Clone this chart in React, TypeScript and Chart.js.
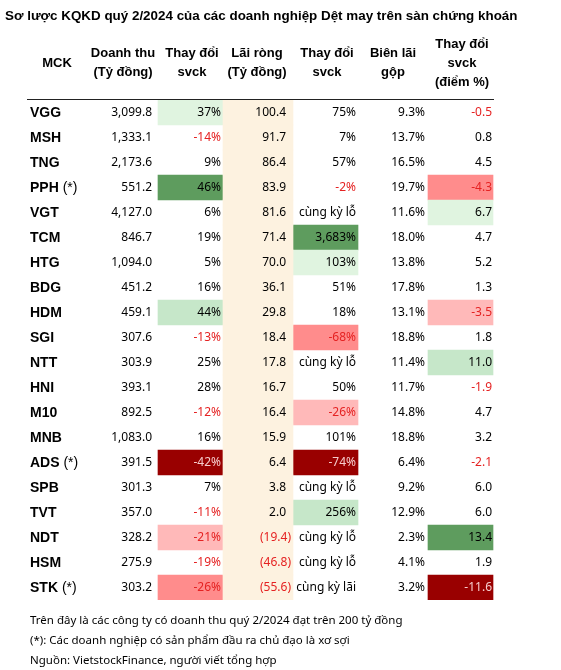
import { useEffect, useRef } from 'react';
import { Chart, registerables } from 'chart.js';

Chart.register(...registerables);

// ---------- data ----------
const titleText = 'Sơ lược KQKD quý 2/2024 của các doanh nghiệp Dệt may trên sàn chứng khoán';
const headers: string[][] = [
  ['MCK'],
  ['Doanh thu', '(Tỷ đồng)'],
  ['Thay đổi', 'svck'],
  ['Lãi ròng', '(Tỷ đồng)'],
  ['Thay đổi', 'svck'],
  ['Biên lãi', 'gộp'],
  ['Thay đổi', 'svck', '(điểm %)'],
];
const tickers = ['VGG', 'MSH', 'TNG', 'PPH', 'VGT', 'TCM', 'HTG', 'BDG', 'HDM', 'SGI', 'NTT', 'HNI', 'M10', 'MNB', 'ADS', 'SPB', 'TVT', 'NDT', 'HSM', 'STK'];
const yarnMaker = [false, false, false, true, false, false, false, false, false, false, false, false, false, false, true, false, false, false, false, true];
const revenue = [3099.8, 1333.1, 2173.6, 551.2, 4127.0, 846.7, 1094.0, 451.2, 459.1, 307.6, 303.9, 393.1, 892.5, 1083.0, 391.5, 301.3, 357.0, 328.2, 275.9, 303.2];
const revenueChange = [37, -14, 9, 46, 6, 19, 5, 16, 44, -13, 25, 28, -12, 16, -42, 7, -11, -21, -19, -26];
const netProfit = [100.4, 91.7, 86.4, 83.9, 81.6, 71.4, 70.0, 36.1, 29.8, 18.4, 17.8, 16.7, 16.4, 15.9, 6.4, 3.8, 2.0, -19.4, -46.8, -55.6];
const profitChange: (number | string)[] = [75, 7, 57, -2, 'cùng kỳ lỗ', 3683, 103, 51, 18, -68, 'cùng kỳ lỗ', 50, -26, 101, -74, 'cùng kỳ lỗ', 256, 'cùng kỳ lỗ', 'cùng kỳ lỗ', 'cùng kỳ lãi'];
const grossMargin = [9.3, 13.7, 16.5, 19.7, 11.6, 18.0, 13.8, 17.8, 13.1, 18.8, 11.4, 11.7, 14.8, 18.8, 6.4, 9.2, 12.9, 2.3, 4.1, 3.2];
const marginChange = [-0.5, 0.8, 4.5, -4.3, 6.7, 4.7, 5.2, 1.3, -3.5, 1.8, 11.0, -1.9, 4.7, 3.2, -2.1, 6.0, 6.0, 13.4, 1.9, -11.6];
// highlight levels: 3 strong green ... -3 strong red
const revenueChangeLevel = [1, 0, 0, 3, 0, 0, 0, 0, 2, 0, 0, 0, 0, 0, -3, 0, 0, -1, 0, -2];
const profitChangeLevel = [0, 0, 0, 0, 0, 3, 1, 0, 0, -2, 0, 0, -1, 0, -3, 0, 2, 0, 0, 0];
const marginChangeLevel = [0, 0, 0, -2, 1, 0, 0, 0, -1, 0, 2, 0, 0, 0, 0, 0, 0, 3, 0, -3];
const footnotes = [
  'Trên đây là các công ty có doanh thu quý 2/2024 đạt trên 200 tỷ đồng',
  '(*): Các doanh nghiệp có sản phẩm đầu ra chủ đạo là xơ sợi',
  'Nguồn: VietstockFinance, người viết tổng hợp',
];

// ---------- layout / style ----------
const colBounds = [0, 73, 131, 196, 266, 331, 401, 466];
const headerCenter = [30, 96, 165, 230, 300, 366, 435];
const textRight = [0, 125, 194, 259, 329, 398, 465];
const levelColor: Record<string, string> = {
  '3': '#5e9c5e',
  '2': '#c6e7c9',
  '1': '#e0f4e0',
  '0': 'rgba(0,0,0,0)',
  '-1': '#ffb9b9',
  '-2': '#ff8c8c',
  '-3': '#990000',
};
const RED = '#e52222';
const BODY_FONT = '12px "Noto Sans", "DejaVu Sans", sans-serif';
const NOTE_FONT = '11.5px "Noto Sans", "DejaVu Sans", sans-serif';
const TITLE_FONT = 'bold 13.4px "Liberation Sans", Arial, sans-serif';
const HEAD_FONT = 'bold 13px "Liberation Sans", Arial, sans-serif';

const fmt1 = (v: number) => v.toLocaleString('en-US', { minimumFractionDigits: 1, maximumFractionDigits: 1 });
const fmtPct = (v: number) => v.toLocaleString('en-US') + '%';

const cellBars = (col: number, levels: number[]) =>
  levels.map((l) => (l !== 0 ? [colBounds[col], colBounds[col + 1]] : null));

const tablePlugin = {
  id: 'tableText',
  afterDatasetsDraw(chart: any) {
    const { ctx, scales, chartArea } = chart;
    const x = scales.x;
    const y = scales.y;
    ctx.save();
    ctx.textBaseline = 'middle';

    // title
    ctx.font = TITLE_FONT;
    ctx.fillStyle = '#000';
    ctx.textAlign = 'left';
    ctx.fillText(titleText, 5, 16);

    // headers
    ctx.font = HEAD_FONT;
    ctx.textAlign = 'center';
    headers.forEach((lines, i) => {
      const lh = 19;
      const mid = 63;
      const start = mid - ((lines.length - 1) * lh) / 2;
      const cx = x.getPixelForValue(headerCenter[i]);
      lines.forEach((t, j) => ctx.fillText(t, cx, start + j * lh));
    });

    // top rule
    ctx.strokeStyle = '#222';
    ctx.lineWidth = 1;
    ctx.beginPath();
    ctx.moveTo(chartArea.left, chartArea.top - 0.5);
    ctx.lineTo(chartArea.right, chartArea.top - 0.5);
    ctx.stroke();

    // body
    tickers.forEach((tk, i) => {
      const py = y.getPixelForValue(i) + 0.5;
      ctx.textAlign = 'left';
      ctx.fillStyle = '#000';
      ctx.font = 'bold 14px "Liberation Sans", Arial, sans-serif';
      const tx = x.getPixelForValue(colBounds[0]) + 3;
      ctx.fillText(tk, tx, py);
      if (yarnMaker[i]) {
        const w = ctx.measureText(tk + ' ').width;
        ctx.font = '14px "Liberation Sans", Arial, sans-serif';
        ctx.fillText('(*)', tx + w, py);
      }
      ctx.font = BODY_FONT;
      ctx.textAlign = 'right';
      const put = (txt: string, col: number, color: string, dx = 0) => {
        ctx.fillStyle = color;
        ctx.fillText(txt, x.getPixelForValue(textRight[col]) + dx, py);
      };
      const signColor = (v: number, lvl: number) => (lvl === -3 ? '#f6cccc' : v < 0 ? RED : '#000');
      put(fmt1(revenue[i]), 1, '#000');
      put(fmtPct(revenueChange[i]), 2, signColor(revenueChange[i], revenueChangeLevel[i]));
      const np = netProfit[i];
      if (np < 0) put('(' + fmt1(-np) + ')', 3, RED, 5);
      else put(fmt1(np), 3, '#000');
      const pc = profitChange[i];
      if (typeof pc === 'string') put(pc, 4, '#000');
      else put(fmtPct(pc), 4, signColor(pc, profitChangeLevel[i]));
      put(grossMargin[i].toFixed(1) + '%', 5, '#000');
      put(marginChange[i].toFixed(1), 6, signColor(marginChange[i], marginChangeLevel[i]));
    });

    // footnotes
    ctx.textAlign = 'left';
    ctx.fillStyle = '#000';
    ctx.font = NOTE_FONT;
    footnotes.forEach((t, i) => ctx.fillText(t, 30, chartArea.bottom + 21 + i * 20));
    ctx.restore();
  },
};

export default function App() {
  const ref = useRef<HTMLCanvasElement>(null);
  useEffect(() => {
    document.body.style.margin = '0';
    const canvas = ref.current;
    if (!canvas) return;
    const common = { barPercentage: 1, categoryPercentage: 1, grouped: false, borderWidth: 0 };
    const chart = new Chart(canvas, {
      type: 'bar',
      data: {
        labels: tickers,
        datasets: [
          {
            ...common,
            label: 'Lãi ròng',
            data: tickers.map(() => [colBounds[3], colBounds[4]]),
            backgroundColor: '#fdf2e0',
          } as any,
          {
            ...common,
            label: 'Thay đổi doanh thu',
            data: cellBars(2, revenueChangeLevel),
            backgroundColor: revenueChangeLevel.map((l) => levelColor[String(l)]),
          } as any,
          {
            ...common,
            label: 'Thay đổi lãi ròng',
            data: cellBars(4, profitChangeLevel),
            backgroundColor: profitChangeLevel.map((l) => levelColor[String(l)]),
          } as any,
          {
            ...common,
            label: 'Thay đổi biên lãi gộp',
            data: cellBars(6, marginChangeLevel),
            backgroundColor: marginChangeLevel.map((l) => levelColor[String(l)]),
          } as any,
        ],
      },
      options: {
        indexAxis: 'y',
        responsive: false,
        animation: false,
        layout: { padding: { left: 27, right: 67, top: 100, bottom: 70 } },
        scales: {
          x: { type: 'linear', min: 0, max: 467, display: false },
          y: { type: 'category', display: false, offset: true },
        },
        plugins: { legend: { display: false }, tooltip: { enabled: false }, title: { display: false } },
      },
      plugins: [tablePlugin],
    });
    return () => chart.destroy();
  }, []);
  return (
    <div style={{ width: 561, height: 670, background: '#fff' }}>
      <canvas ref={ref} width={561} height={670} style={{ display: 'block' }} />
    </div>
  );
}
